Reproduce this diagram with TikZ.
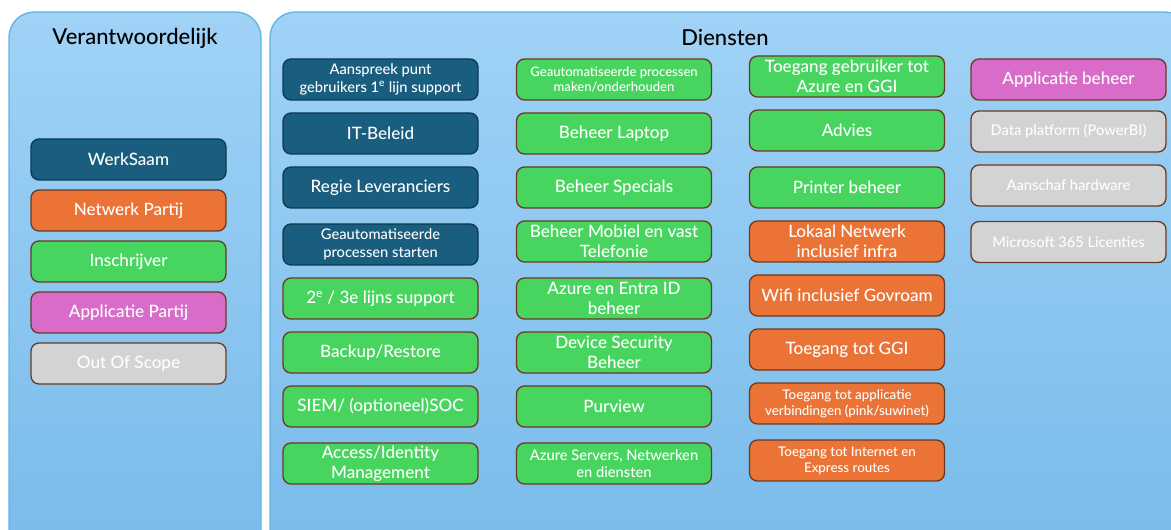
\documentclass[tikz,border=0pt]{standalone}
\usepackage{fontspec}
\setmainfont{Lato}[UprightFont=* Medium]
\usepackage{tikz}
\usetikzlibrary{positioning, shapes}
\definecolor{panelTop}{HTML}{A0D2F6}
\definecolor{panelBottom}{HTML}{78BBEA}
\definecolor{panelEdge}{HTML}{62B2E6}
\definecolor{werkBlue}{HTML}{195E7E}
\definecolor{werkEdge}{HTML}{0E3A50}
\definecolor{netOrange}{HTML}{EA7335}
\definecolor{insGreen}{HTML}{48D55F}
\definecolor{appPink}{HTML}{D86CC8}
\definecolor{scopeGray}{HTML}{D3D3D3}
\definecolor{boxEdge}{HTML}{6B3A24}
\tikzstyle{panel} = [draw=panelEdge, line width=1pt, rounded corners=19pt, top color=panelTop, bottom color=panelBottom]
\tikzstyle{title} = [font=\fontsize{16.5}{19}\selectfont, text=black]
\tikzstyle{box} = [rectangle, rounded corners=6pt, minimum width=146.25pt, minimum height=30.75pt, text centered, align=center, text=white, line width=1pt, inner sep=1pt, draw=boxEdge, font=\fontsize{12.8}{15}\selectfont]
\tikzstyle{small} = [font=\fontsize{9.8}{11.5}\selectfont]
\tikzstyle{mid} = [font=\fontsize{11}{13}\selectfont]
\tikzstyle{werksaam} = [box, draw=werkEdge, fill=werkBlue]
\tikzstyle{netwerk} = [box, fill=netOrange]
\tikzstyle{inschrijver} = [box, fill=insGreen]
\tikzstyle{applicatie} = [box, fill=appPink]
\tikzstyle{outscope} = [box, fill=scopeGray]
\begin{document}
\begin{tikzpicture}[x=0.75pt, y=0.75pt, node distance=40.5pt]

        \useasboundingbox (0,0) rectangle (1171,529);
        \clip (0,0) rectangle (1171,529);

        % Panels
        \path [panel] (9,517) rectangle (261,-30);
        \path [panel] (270,517) rectangle (1190,-30);
        \node (verantw) [title] at (135,491) {Verantwoordelijk};
        \node (diensten) [title] at (725,491) {Diensten};

        % Legend
        \begin{scope}[node distance=38.25pt]
                \node (lWerk) [werksaam] at (128.5,369.5) {WerkSaam};
                \node (lNet)  [netwerk, below of=lWerk] {Netwerk Partij};
                \node (lIns)  [inschrijver, below of=lNet] {Inschrijver};
                \node (lApp)  [applicatie, below of=lIns] {Applicatie Partij};
                \node (lOut)  [outscope, below of=lApp] {Out Of Scope};
        \end{scope}

        % Column 1
        \node (aanspreek) [werksaam, mid] at (380.5,449.5) {Aanspreek punt\\gebruikers 1\textsuperscript{e} lijn support};
        \node (itbeleid)  [werksaam, below of=aanspreek] {IT-Beleid};
        \node (regie)     [werksaam, below of=itbeleid] {Regie Leveranciers};
        \node (starten)   [werksaam, mid, below of=regie, yshift=-2.25pt] {Geautomatiseerde\\processen starten};
        \node (lijns)     [inschrijver, below of=starten] {2\textsuperscript{e} / 3e lijns support};
        \node (backup)    [inschrijver, below of=lijns] {Backup/Restore};
        \node (siem)      [inschrijver, below of=backup] {SIEM/ (optioneel)SOC};
        \node (access)    [inschrijver, below of=siem, yshift=-2.25pt] {Access/Identity\\Management};

        % Column 2
        \node (maken)     [inschrijver, small] at (614,449.5) {Geautomatiseerde processen\\maken/onderhouden};
        \node (laptop)    [inschrijver, below of=maken] {Beheer Laptop};
        \node (specials)  [inschrijver, below of=laptop] {Beheer Specials};
        \node (mobiel)    [inschrijver, below of=specials] {Beheer Mobiel en vast\\Telefonie};
        \node (entra)     [inschrijver, below of=mobiel, yshift=-2.25pt] {Azure en Entra ID\\beheer};
        \node (device)    [inschrijver, below of=entra] {Device Security\\Beheer};
        \node (purview)   [inschrijver, below of=device] {Purview};
        \node (servers)   [inschrijver, mid, below of=purview, yshift=-2.25pt] {Azure Servers, Netwerken\\en diensten};

        % Column 3
        \node (toegang)   [inschrijver] at (847,452.5) {Toegang gebruiker tot\\Azure en GGI};
        \node (advies)    [inschrijver, below of=toegang] {Advies};
        \node (printer)   [inschrijver, below of=advies, yshift=-2.25pt] {Printer beheer};
        \node (lokaal)    [netwerk, below of=printer] {Lokaal Netwerk\\inclusief infra};
        \node (wifi)      [netwerk, below of=lokaal] {Wifi inclusief Govroam};
        \node (ggi)       [netwerk, below of=wifi] {Toegang tot GGI};
        \node (verbind)   [netwerk, font=\fontsize{10}{12}\selectfont, below of=ggi] {Toegang tot applicatie\\verbindingen (pink/suwinet)};
        \node (internet)  [netwerk, font=\fontsize{10}{12}\selectfont, below of=verbind, yshift=-2.25pt] {Toegang tot Internet en\\Express routes};

        % Column 4
        \node (appbeheer) [applicatie] at (1068.5,449.5) {Applicatie beheer};
        \node (data)      [outscope, mid, below of=appbeheer, yshift=1.5pt] {Data platform (PowerBI)};
        \node (hardware)  [outscope, mid, below of=data] {Aanschaf hardware};
        \node (licenties) [outscope, mid, below of=hardware, yshift=-1.9pt] {Microsoft 365 Licenties};

\end{tikzpicture}
\end{document}
